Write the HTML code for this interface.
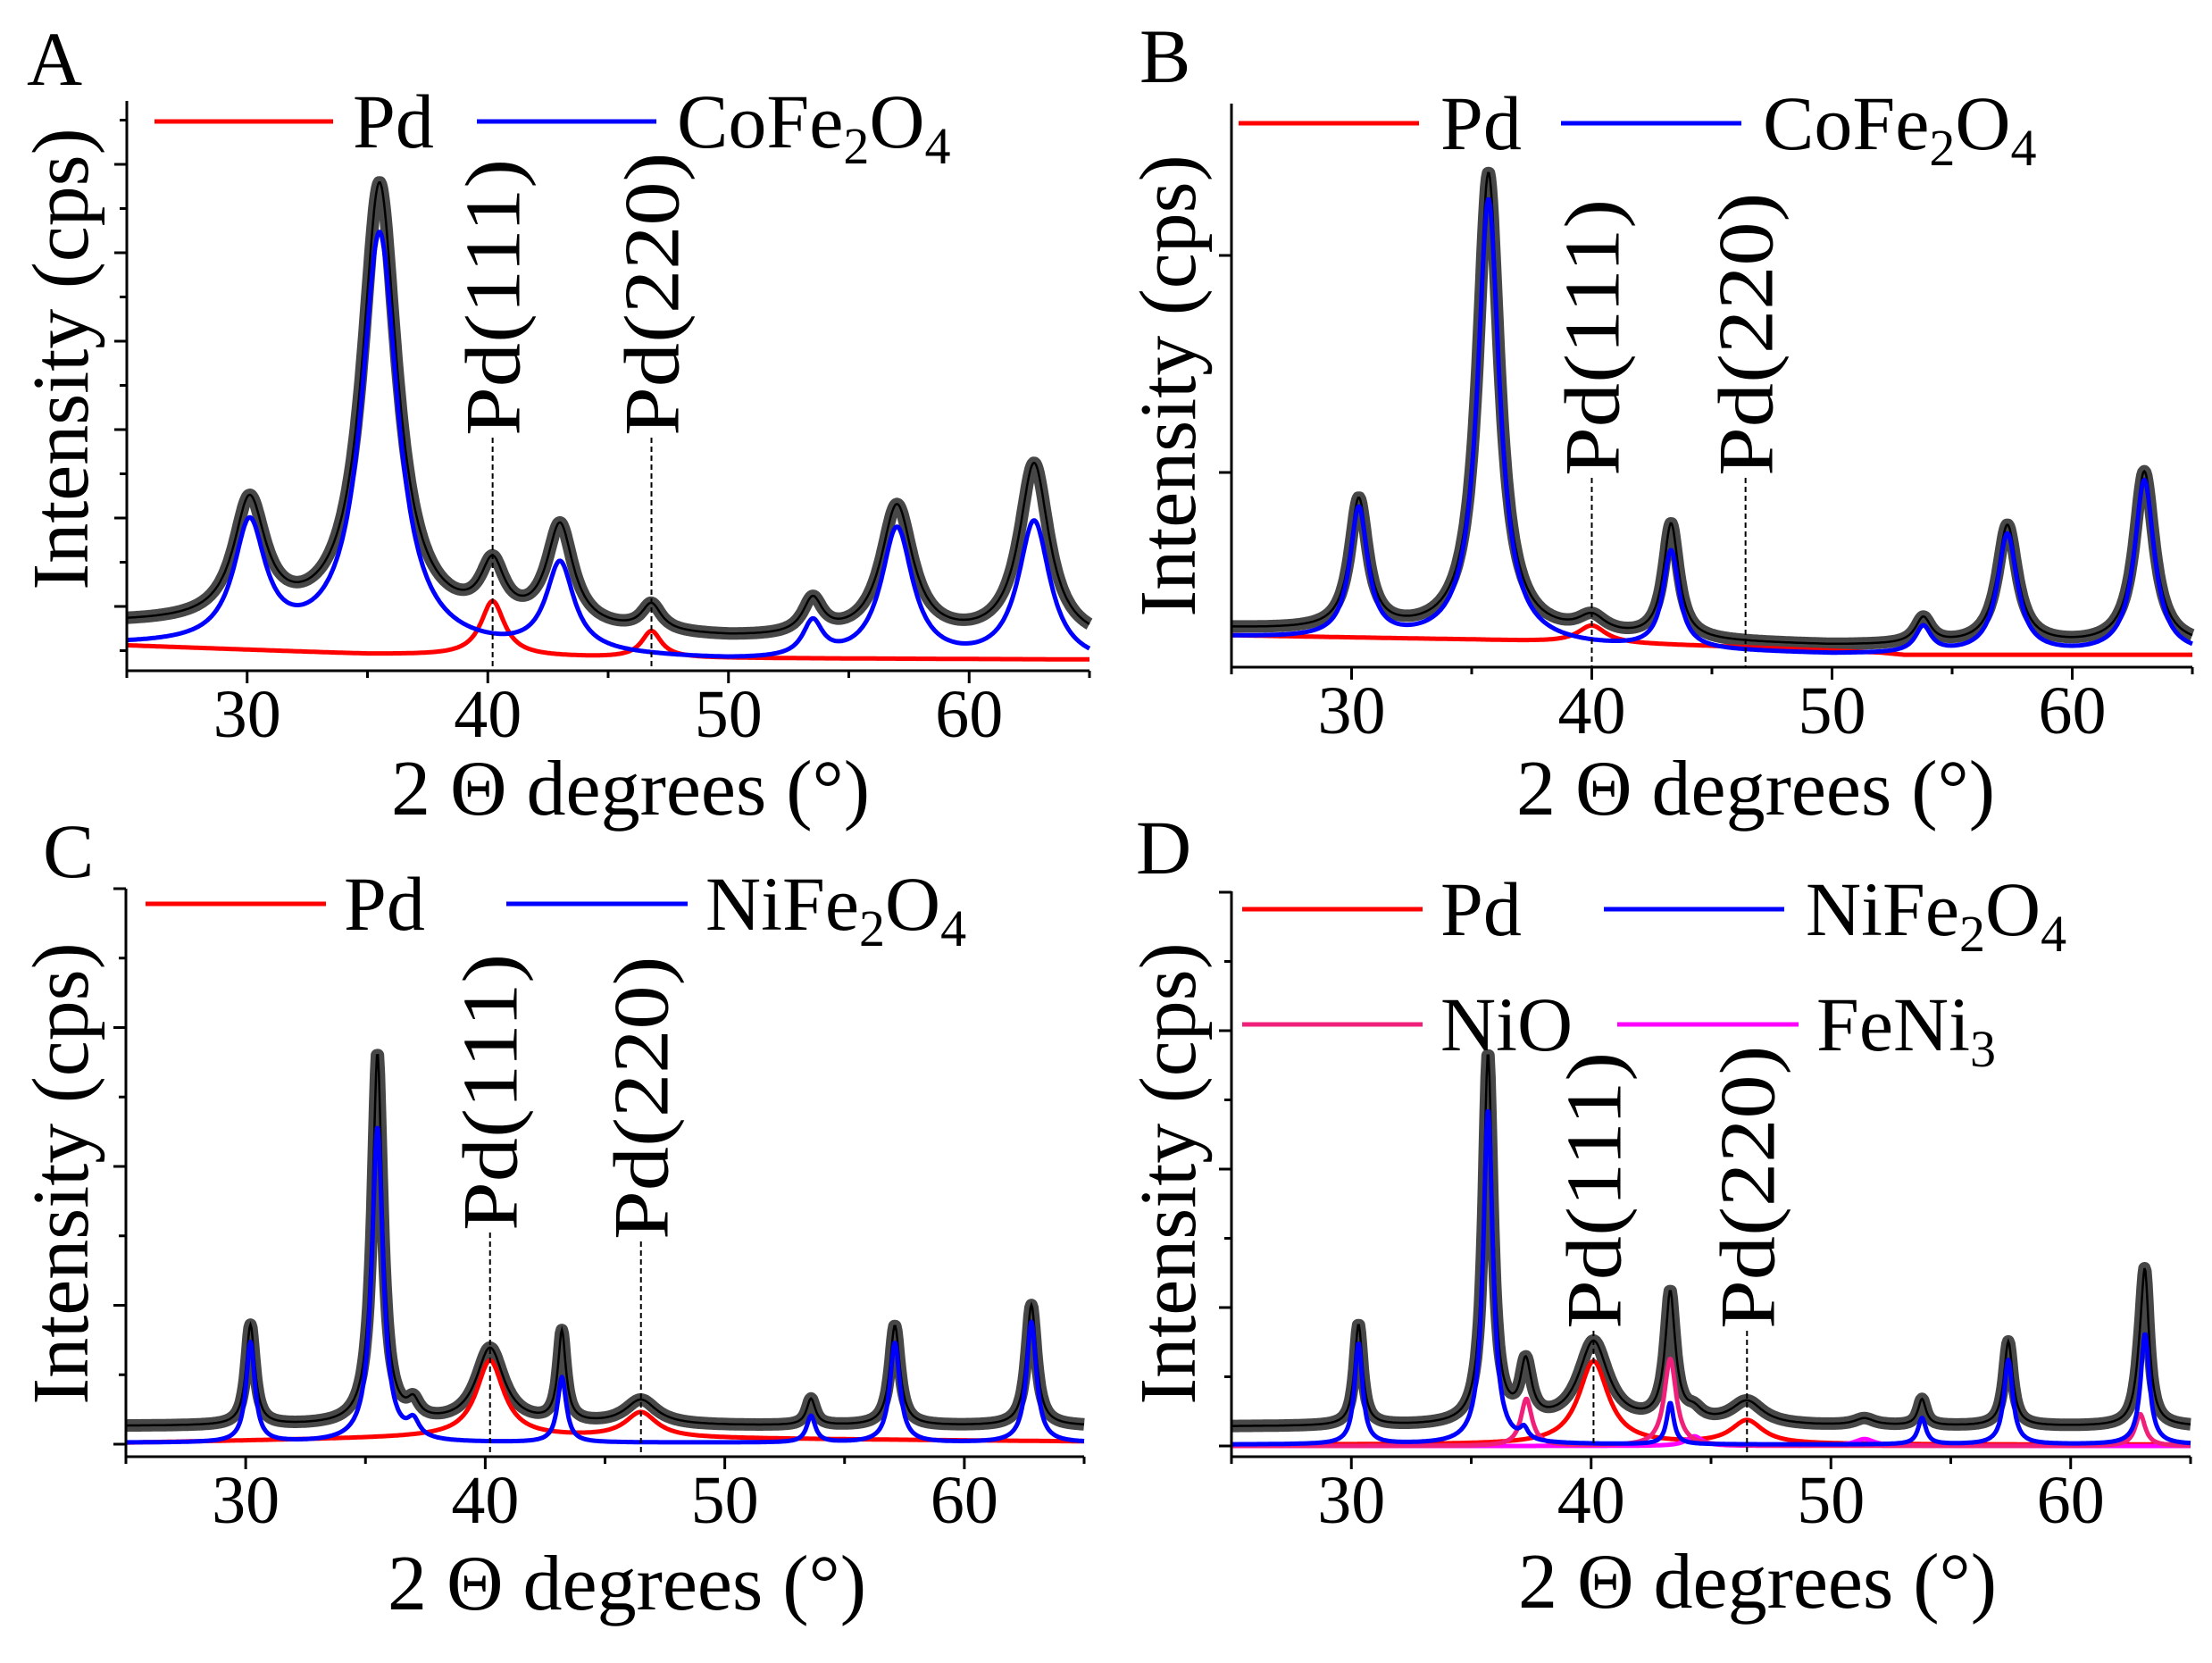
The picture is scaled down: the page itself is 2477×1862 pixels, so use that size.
<!DOCTYPE html>
<html><head><meta charset="utf-8"><style>
html,body{margin:0;padding:0;background:#fff}
svg{display:block}
text{font-family:"Liberation Serif",serif;fill:#000}
</style></head><body>
<svg id="fig" width="2477" height="1862" viewBox="0 0 2477 1862" xmlns="http://www.w3.org/2000/svg"></svg>
<script>
// ---- data (peak parameters: centre °, height above background, half-width °) ----
const xTicks = [30, 40, 50, 60];
const xTickLabels = ["30", "40", "50", "60"];
const xMinor = [25, 35, 45, 55, 65];

// Panel A
const aRedBgX = [25, 35, 45, 65];
const aRedBgV = [0.56, 0.46, 0.42, 0.40];
const aRedPos = [40.2, 46.8];
const aRedAmp = [0.62, 0.30];
const aRedWid = [0.6, 0.5];
const aBlueBgX = [25, 35, 45, 50, 65];
const aBlueBgV = [0.55, 0.50, 0.42, 0.37, 0.33];
const aBluePos = [30.1, 35.5, 43.0, 53.5, 57.0, 62.7];
const aBlueAmp = [1.35, 4.7, 1.0, 0.4, 1.5, 1.6];
const aBlueWid = [0.8, 0.9, 0.7, 0.5, 0.8, 0.8];
const aBlackOffset = [0.25];
const aBlkPos = [35.5, 62.7, 43.0];
const aBlkAmp = [0.3, 0.4, 0.15];
const aBlkWid = [0.5, 0.6, 0.5];

// Panel B
const bRedBgX = [25, 35, 45, 52, 53, 65];
const bRedBgV = [0.25, 0.23, 0.20, 0.17, 0.16, 0.16];
const bRedPos = [40.0];
const bRedAmp = [0.08];
const bRedWid = [0.7];
const bBlueBgX = [25, 40, 50, 65];
const bBlueBgV = [0.24, 0.19, 0.16, 0.16];
const bBluePos = [30.3, 35.7, 43.3, 53.8, 57.3, 63.0];
const bBlueAmp = [0.6, 2.05, 0.45, 0.12, 0.55, 0.8];
const bBlueWid = [0.45, 0.55, 0.4, 0.4, 0.5, 0.5];
const bBlackOffset = [0.04];
const bBlkPos = [35.7, 43.3];
const bBlkAmp = [0.08, 0.08];
const bBlkWid = [0.4, 0.3];

// Panel C
const cRedBgX = [25, 38, 43, 65];
const cRedBgV = [0.01, 0.05, 0.05, 0.02];
const cRedPos = [40.2, 46.5];
const cRedAmp = [0.55, 0.18];
const cRedWid = [0.7, 0.8];
const cBlueBgX = [25, 65];
const cBlueBgV = [0.01, 0.01];
const cBluePos = [30.2, 35.5, 37.0, 43.2, 53.6, 57.1, 62.8];
const cBlueAmp = [0.72, 2.27, 0.12, 0.47, 0.19, 0.72, 0.87];
const cBlueWid = [0.22, 0.28, 0.3, 0.22, 0.22, 0.25, 0.25];
const cBlackOffset = [0.13];
const cBlkPos = [35.5, 43.2];
const cBlkAmp = [0.4, 0.18];
const cBlkWid = [0.15, 0.15];

// Panel D
const dRedBgX = [25, 65];
const dRedBgV = [0.01, 0.01];
const dRedPos = [40.1, 46.5];
const dRedAmp = [0.6, 0.17];
const dRedWid = [0.75, 0.8];
const dBlueBgX = [25, 65];
const dBlueBgV = [0.01, 0.01];
const dBluePos = [30.3, 35.7, 37.2, 43.3, 53.8, 57.4, 63.1];
const dBlueAmp = [0.73, 2.42, 0.08, 0.3, 0.19, 0.61, 0.8];
const dBlueWid = [0.2, 0.24, 0.2, 0.18, 0.2, 0.22, 0.22];
const dNioPos = [37.3, 43.3, 62.9];
const dNioAmp = [0.34, 0.63, 0.23];
const dNioWid = [0.28, 0.3, 0.25];
const dFePos = [44.3, 51.4];
const dFeAmp = [0.07, 0.05];
const dFeWid = [0.4, 0.5];
const dBlackOffset = [0.14];
const dBlkPos = [35.7, 63.1];
const dBlkAmp = [0.25, 0.2];
const dBlkWid = [0.15, 0.15];

// ---- rendering ----
const NS = "http://www.w3.org/2000/svg";
const svg = document.getElementById("fig");
function mk(tag, attrs, parent) {
  const e = document.createElementNS(NS, tag);
  for (const k in attrs) e.setAttribute(k, attrs[k]);
  (parent || svg).appendChild(e);
  return e;
}
function interp(xs, vs, x) {
  if (x <= xs[0]) return vs[0];
  for (let i = 1; i < xs.length; i++) if (x <= xs[i]) return vs[i-1] + (vs[i]-vs[i-1]) * (x - xs[i-1]) / (xs[i]-xs[i-1]);
  return vs[vs.length-1];
}
function peaks(pos, amp, wid, x) {
  let s = 0;
  for (let i = 0; i < pos.length; i++) { const d = (x - pos[i]) / wid[i]; s += amp[i] / (1 + d*d); }
  return s;
}
const STEP = 0.04;
function xs() { const a = []; for (let x = 25; x <= 65.0001; x += STEP) a.push(x); return a; }

function panel(P) {
  const g = mk("g", {});
  
  
  const X = x => P.xl + (x - 25) / 40 * (P.xr - P.xl);
  const Y = v => P.y0 - v * P.unit;
  const grid = xs();
  const path = f => grid.map((x, i) => (i ? "L" : "M") + X(x).toFixed(1) + "," + Math.max(P.top, Y(f(x))).toFixed(1)).join("");

  const blackF = x => P.black(x);
  const band = mk("path", {d: path(blackF), fill: "none", stroke: "rgba(0,0,0,0.72)", "stroke-width": 14, "stroke-linejoin": "round"}, g);
  
  
  const bl = mk("path", {d: path(blackF), fill: "none", stroke: "#000", "stroke-width": 2.5}, g);
  
  

  P.series.forEach(s => {
    const p = mk("path", {d: path(s.f), fill: "none", stroke: s.color, "stroke-width": 5, "stroke-linejoin": "round"}, g);
    
    
  });

  const ax = mk("path", {d: `M${P.xl},${P.top}V${P.axY}H${P.xr}`, fill: "none", stroke: "#000", "stroke-width": 3}, g);
  
  
  xTicks.forEach((t, i) => {
    mk("line", {x1: X(t), x2: X(t), y1: P.axY, y2: P.axY + 14, stroke: "#000", "stroke-width": 3}, g);
    const tl = mk("text", {x: X(t), y: P.axY + 74, "font-size": 76, "text-anchor": "middle"}, g);
    tl.textContent = xTickLabels[i];
    
    
  });
  xMinor.forEach(t => mk("line", {x1: X(t), x2: X(t), y1: P.axY, y2: P.axY + 8, stroke: "#000", "stroke-width": 3}, g));
  P.yMajor.forEach(v => mk("line", {x1: P.xl - 14, x2: P.xl, y1: Y(v), y2: Y(v), stroke: "#000", "stroke-width": 3}, g));
  P.yMinor.forEach(v => mk("line", {x1: P.xl - 8, x2: P.xl, y1: Y(v), y2: Y(v), stroke: "#000", "stroke-width": 3}, g));

  const xt = mk("text", {x: P.xtX, y: P.xtY, "font-size": 88, "text-anchor": "middle"}, g);
  xt.textContent = "2 \u0398 degrees (\u00B0)";
  
  
  const yt = mk("text", {x: 0, y: 0, "font-size": 90, "text-anchor": "middle", transform: `translate(${P.ytX},${P.ytY}) rotate(-90)`}, g);
  yt.textContent = "Intensity (cps)";
  
  
  const pl = mk("text", {x: P.lx, y: P.ly, "font-size": 86}, g);
  pl.textContent = P.id;
  
  

  P.ann.forEach(a => {
    const dl = mk("line", {x1: X(a.x), x2: X(a.x), y1: a.y1, y2: a.y2, stroke: "#000", "stroke-width": 2, "stroke-dasharray": "6,4"}, g);
    
    
    const t = mk("text", {x: 0, y: 0, "font-size": 88, transform: `translate(${X(a.x) + 30},${a.y1 - 2}) rotate(-90) scale(1.12,1)`}, g);
    t.textContent = a.label;
    
    
  });

  P.legend.forEach(L => {
    const ln = mk("line", {x1: L.x1, x2: L.x2, y1: L.y, y2: L.y, stroke: L.color, "stroke-width": 5}, g);
    
    
    const t = mk("text", {x: L.tx, y: L.y + 29, "font-size": 86}, g);
    
    
    L.parts.forEach(pt => {
      const ts = mk("tspan", pt[1] ? {"font-size": 58, dy: 18} : {dy: pt[2] || 0}, t);
      ts.textContent = pt[0];
    });
  });
}

const half = (a, b) => { const r = []; for (let v = a; v <= b + 1e-9; v += 1) r.push(v); return r; };
const co = [["CoFe"], ["2", 1], ["O", 0, -18], ["4", 1]];
const ni = [["NiFe"], ["2", 1], ["O", 0, -18], ["4", 1]];

panel({id: "A", xl: 142, xr: 1220, axY: 751, top: 113, y0: 778, unit: 99,
  yMajor: half(1, 6), yMinor: half(0.5, 6.5),
  black: x => peaks(aBluePos, aBlueAmp, aBlueWid, x) + interp(aBlueBgX, aBlueBgV, x) + peaks(aRedPos, aRedAmp, aRedWid, x) + peaks(aBlkPos, aBlkAmp, aBlkWid, x) + aBlackOffset[0],
  series: [
    {name: "pd", color: "#ff0000", f: x => interp(aRedBgX, aRedBgV, x) + peaks(aRedPos, aRedAmp, aRedWid, x)},
    {name: "cofe2o4", color: "#0000ff", f: x => interp(aBlueBgX, aBlueBgV, x) + peaks(aBluePos, aBlueAmp, aBlueWid, x)}],
  xtX: 706, xtY: 912, ytX: 98, ytY: 402, lx: 30, ly: 95,
  ann: [{x: 40.2, y1: 490, y2: 751, label: "Pd(111)"}, {x: 46.8, y1: 490, y2: 751, label: "Pd(220)"}],
  legend: [{x1: 173, x2: 373, y: 136, color: "#ff0000", tx: 395, parts: [["Pd"]]},
           {x1: 534, x2: 735, y: 136, color: "#0000ff", tx: 758, parts: co}]});

panel({id: "B", xl: 1379, xr: 2455, axY: 747, top: 116, y0: 772, unit: 243,
  yMajor: [1, 2], yMinor: [],
  black: x => peaks(bBluePos, bBlueAmp, bBlueWid, x) + interp(bBlueBgX, bBlueBgV, x) + peaks(bRedPos, bRedAmp, bRedWid, x) + peaks(bBlkPos, bBlkAmp, bBlkWid, x) + bBlackOffset[0],
  series: [
    {name: "pd", color: "#ff0000", f: x => interp(bRedBgX, bRedBgV, x) + peaks(bRedPos, bRedAmp, bRedWid, x)},
    {name: "cofe2o4", color: "#0000ff", f: x => interp(bBlueBgX, bBlueBgV, x) + peaks(bBluePos, bBlueAmp, bBlueWid, x)}],
  xtX: 1966, xtY: 912, ytX: 1338, ytY: 432, lx: 1276, ly: 92,
  ann: [{x: 40.0, y1: 535, y2: 747, label: "Pd(111)"}, {x: 46.4, y1: 535, y2: 747, label: "Pd(220)"}],
  legend: [{x1: 1387, x2: 1589, y: 138, color: "#ff0000", tx: 1613, parts: [["Pd"]]},
           {x1: 1748, x2: 1950, y: 138, color: "#0000ff", tx: 1974, parts: co}]});

panel({id: "C", xl: 141, xr: 1214, axY: 1631, top: 995, y0: 1617, unit: 155.5,
  yMajor: half(0, 4), yMinor: half(0.5, 3.5),
  black: x => peaks(cBluePos, cBlueAmp, cBlueWid, x) + peaks(cRedPos, cRedAmp, cRedWid, x) + peaks(cBlkPos, cBlkAmp, cBlkWid, x) + cBlackOffset[0],
  series: [
    {name: "pd", color: "#ff0000", f: x => interp(cRedBgX, cRedBgV, x) + peaks(cRedPos, cRedAmp, cRedWid, x)},
    {name: "nife2o4", color: "#0000ff", f: x => interp(cBlueBgX, cBlueBgV, x) + peaks(cBluePos, cBlueAmp, cBlueWid, x)}],
  xtX: 702, xtY: 1802, ytX: 98, ytY: 1314, lx: 48, ly: 982,
  ann: [{x: 40.2, y1: 1380, y2: 1631, label: "Pd(111)"}, {x: 46.5, y1: 1390, y2: 1631, label: "Pd(220)"}],
  legend: [{x1: 163, x2: 365, y: 1012, color: "#ff0000", tx: 385, parts: [["Pd"]]},
           {x1: 567, x2: 770, y: 1012, color: "#0000ff", tx: 790, parts: ni}]});

panel({id: "D", xl: 1379, xr: 2453, axY: 1631, top: 998, y0: 1619, unit: 155,
  yMajor: half(0, 4), yMinor: half(0.5, 3.5),
  black: x => peaks(dBluePos, dBlueAmp, dBlueWid, x) + peaks(dRedPos, dRedAmp, dRedWid, x) + peaks(dNioPos, dNioAmp, dNioWid, x) + peaks(dFePos, dFeAmp, dFeWid, x) + peaks(dBlkPos, dBlkAmp, dBlkWid, x) + dBlackOffset[0],
  series: [
    {name: "pd", color: "#ff0000", f: x => interp(dRedBgX, dRedBgV, x) + peaks(dRedPos, dRedAmp, dRedWid, x)},
    {name: "feni3", color: "#ff00ff", f: x => peaks(dFePos, dFeAmp, dFeWid, x)},
    {name: "nio", color: "#f0207a", f: x => peaks(dNioPos, dNioAmp, dNioWid, x)},
    {name: "nife2o4", color: "#0000ff", f: x => interp(dBlueBgX, dBlueBgV, x) + peaks(dBluePos, dBlueAmp, dBlueWid, x)}],
  xtX: 1968, xtY: 1800, ytX: 1338, ytY: 1314, lx: 1272, ly: 978,
  ann: [{x: 40.1, y1: 1490, y2: 1619, label: "Pd(111)"}, {x: 46.5, y1: 1490, y2: 1631, label: "Pd(220)"}],
  legend: [{x1: 1391, x2: 1593, y: 1018, color: "#ff0000", tx: 1613, parts: [["Pd"]]},
           {x1: 1796, x2: 1998, y: 1018, color: "#0000ff", tx: 2022, parts: ni},
           {x1: 1391, x2: 1593, y: 1147, color: "#f0207a", tx: 1613, parts: [["NiO"]]},
           {x1: 1811, x2: 2014, y: 1147, color: "#ff00ff", tx: 2034, parts: [["FeNi"], ["3", 1]]}]});
</script>
</body></html>
